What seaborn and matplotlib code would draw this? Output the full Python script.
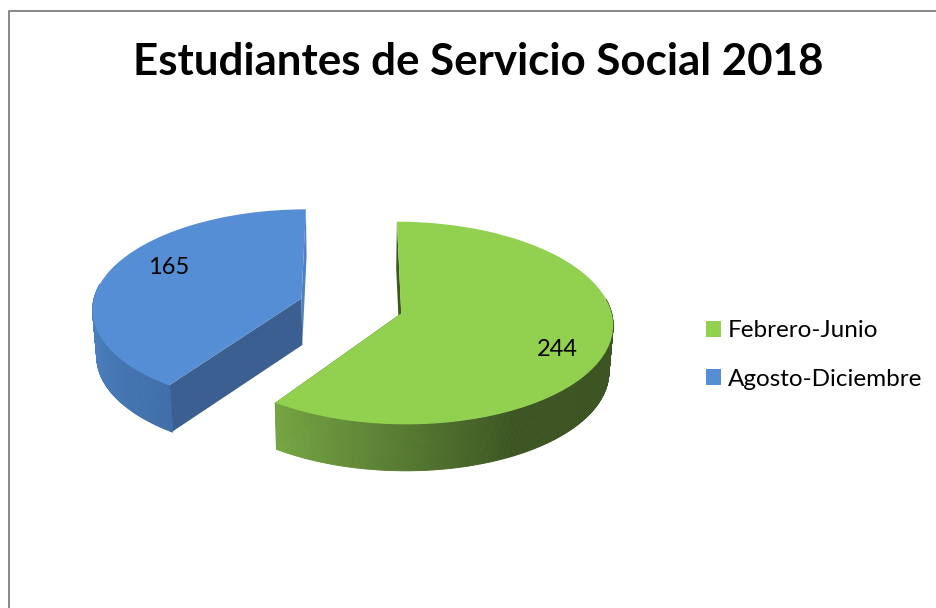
import numpy as np
import matplotlib
matplotlib.use("Agg")
import matplotlib.pyplot as plt
import matplotlib.transforms as mtransforms
from matplotlib.collections import PolyCollection
from matplotlib.colors import to_rgb
import seaborn as sns

# Datos
periodos = ["Febrero-Junio", "Agosto-Diciembre"]
estudiantes = [244, 165]
titulo = "Estudiantes de Servicio Social 2018"
colores = ["#92d050", "#558ed5"]
separacion = [0.245, 0.255]

# Proyeccion del pastel (circulo unitario -> pixeles de la imagen)
CX, CY, RX, RY, K = 352.0, 306.0, 209.0, 99.0, 0.095
GROSOR = 46.5
ESCALA_BASE = 0.984


def proyectar(u, v, abajo=False):
    w = 1 + K * v
    x = RX * u / w
    y = -RY * v / w
    if abajo:
        return CX + x * ESCALA_BASE, CY + y + GROSOR
    return CX + x, CY + y


class Perspectiva(mtransforms.Transform):
    input_dims = 2
    output_dims = 2
    has_inverse = False

    def transform_non_affine(self, values):
        values = np.asarray(values)
        x, y = proyectar(values[:, 0], values[:, 1])
        return np.column_stack([x, y])


sns.set_theme(style="white")
plt.rcParams["font.family"] = ["Lato", "DejaVu Sans"]

fig = plt.figure(figsize=(9.36, 6.08), dpi=100, facecolor="white")
ax = fig.add_axes([0, 0, 1, 1])

wedges, _ = ax.pie(estudiantes, colors=sns.color_palette(colores), startangle=90,
                   counterclock=False, explode=separacion,
                   wedgeprops={"linewidth": 0, "zorder": 5})
ax.set_aspect("auto")
ax.set_xlim(0, 936)
ax.set_ylim(608, 0)
ax.axis("off")

persp = Perspectiva()
for w in wedges:
    w.set_transform(persp + ax.transData)


def cara(cx, cy, theta):
    # Cara del corte: del centro al borde, con su grosor
    u = cx + np.cos(np.radians(theta))
    v = cy + np.sin(np.radians(theta))
    x0, y0 = proyectar(cx, cy)
    x1, y1 = proyectar(u, v)
    x2, y2 = proyectar(u, v, abajo=True)
    x3, y3 = proyectar(cx, cy, abajo=True)
    return [(x0, y0), (x1, y1), (x2, y2), (x3, y3)]


def lado(w, color_ini, color_fin, th_ini, th_fin):
    # Borde curvo con degradado segun el angulo
    cx, cy = w.center
    thetas = np.arange(w.theta1, w.theta2 + 0.5, 0.5)
    thetas = thetas[np.sin(np.radians(thetas)) < 0.15]
    quads, cols = [], []
    c0, c1 = np.array(to_rgb(color_ini)), np.array(to_rgb(color_fin))
    for a, b in zip(thetas[:-1], thetas[1:]):
        ua, va = cx + np.cos(np.radians(a)), cy + np.sin(np.radians(a))
        ub, vb = cx + np.cos(np.radians(b)), cy + np.sin(np.radians(b))
        quads.append([proyectar(ua, va), proyectar(ub, vb),
                      proyectar(ub, vb, abajo=True), proyectar(ua, va, abajo=True)])
        f = np.clip((a - th_ini) / (th_fin - th_ini), 0, 1)
        cols.append(c0 + (c1 - c0) * f)
    pc = PolyCollection(quads, facecolors=cols, edgecolors=cols, linewidths=0.6, zorder=3)
    ax.add_collection(pc)


verde, azul = wedges
cx, cy = verde.center
ax.add_collection(PolyCollection([cara(cx, cy, verde.theta2), cara(cx, cy, verde.theta1)],
                                 facecolors=["#3c5522", "#3c5522"], edgecolors="none", zorder=2))
cx, cy = azul.center
ax.add_collection(PolyCollection([cara(cx, cy, azul.theta2), cara(cx, cy, azul.theta1)],
                                 facecolors=["#3a5f90", "#4f82c4"], edgecolors="none", zorder=2))
lado(verde, "#76a743", "#3c5522", verde.theta1, -62)
lado(azul, "#4f84c4", "#3f6ea8", -180, azul.theta2)

# Etiquetas de valor
ax.text(169, 267, str(estudiantes[1]), ha="center", va="center", fontsize=17, color="black", zorder=6)
ax.text(557, 350, str(estudiantes[0]), ha="center", va="center", fontsize=17, color="black", zorder=6)

# Marco
ax.plot([8.5, 8.5, 936], [608, 10.5, 10.5], color="#868686", lw=1.4, clip_on=False, zorder=1)

fig.suptitle(titulo, x=478.5 / 936, y=1 - 62 / 608, va="center", ha="center",
             fontsize=31.6, fontweight="bold", color="black")

fs = 17.5
em = fs * 100 / 72
ax.legend(wedges, periodos, loc="center left", bbox_to_anchor=(706, 355),
          bbox_transform=ax.transData, frameon=False, fontsize=fs,
          handlelength=15 / em, handleheight=15 / em, handletextpad=7 / em,
          labelspacing=(51.5 - em) / em, borderpad=0, borderaxespad=0, labelcolor="black")

fig.savefig("out.png", dpi=100, facecolor="white")
